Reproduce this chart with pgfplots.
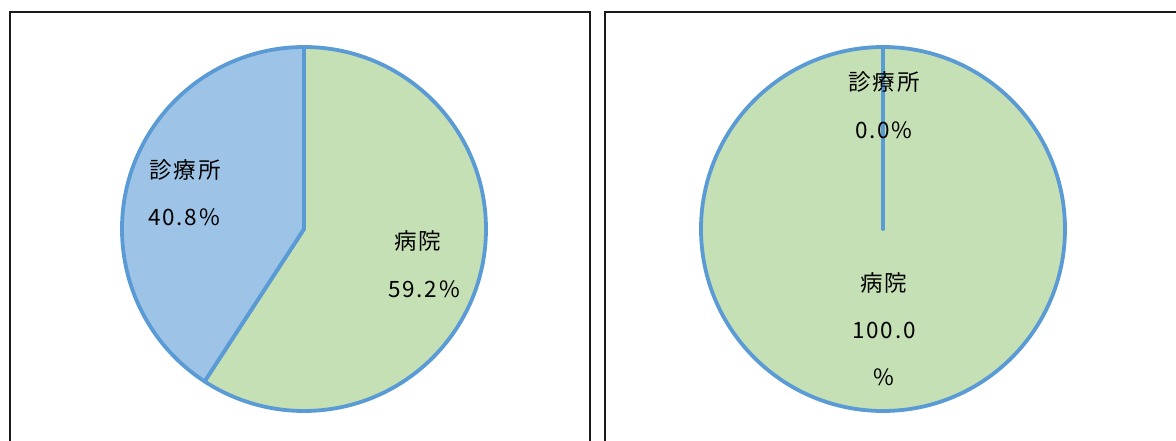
\documentclass[border=0pt]{standalone}
\usepackage{pgfplots}
\pgfplotsset{compat=1.18}
\usepackage{pgfplotstable}
\usepackage{fontspec}
\setmainfont{Noto Sans CJK JP}
\newfontfamily\jp[LetterSpace=8]{Noto Sans CJK JP}
\definecolor{pieGreen}{HTML}{C5E0B4}
\definecolor{pieBlue}{HTML}{9DC3E6}
\definecolor{pieEdge}{HTML}{5B9BD5}
\definecolor{frameC}{HTML}{1A1A1A}
% left pie
\pgfplotstableread{
kind value
hospital 59.2
clinic 40.8
}\leftdata
% right pie
\pgfplotstableread{
kind value
hospital 100.0
clinic 0.0
}\rightdata
\pgfplotstablegetelem{0}{value}\of\leftdata \let\LH\pgfplotsretval
\pgfplotstablegetelem{1}{value}\of\leftdata \let\LC\pgfplotsretval
\pgfplotstablegetelem{0}{value}\of\rightdata \let\RH\pgfplotsretval
\pgfplotstablegetelem{1}{value}\of\rightdata \let\RC\pgfplotsretval
\pgfmathsetmacro\LA{90-3.6*\LH}
\pgfmathsetmacro\LB{\LA-3.6*\LC}
\pgfmathsetmacro\RA{90-3.6*\RH}
\pgfmathsetmacro\RB{\RA-3.6*\RC}
\begin{document}
\begin{tikzpicture}
\begin{axis}[
  scale only axis, width=1176pt, height=441pt,
  xmin=0, xmax=1176, ymin=0, ymax=441,
  enlargelimits=false, hide axis, clip=true,
]
\path (axis cs:0,0) (axis cs:1176,441);
% frames
\draw[frameC, line width=2pt] (axis cs:10,-10) -- (axis cs:10,429) -- (axis cs:590,429) -- (axis cs:590,-10);
\draw[frameC, line width=2pt] (axis cs:605,-10) -- (axis cs:605,429) -- (axis cs:1190,429);
% left pie
\filldraw[fill=pieGreen, draw=pieEdge, line width=3.8pt, line join=round]
  (axis cs:304,212) -- ++(90:182pt) arc[start angle=90, end angle=\LA, radius=182pt] -- cycle;
\filldraw[fill=pieBlue, draw=pieEdge, line width=3.8pt, line join=round]
  (axis cs:304,212) -- ++(\LA:182pt) arc[start angle=\LA, end angle=\LB, radius=182pt] -- cycle;
% right pie
\filldraw[fill=pieGreen, draw=pieEdge, line width=3.8pt, line join=round]
  (axis cs:883,212) -- ++(90:182pt) arc[start angle=90, end angle=\RA, radius=182pt] -- cycle;
\filldraw[fill=pieBlue, draw=pieEdge, line width=3.8pt, line cap=round]
  (axis cs:883,212) -- ++(\RA:182pt);
% labels
\tikzset{lbl/.style={font=\jp\fontsize{22.5}{26}\selectfont, text=black, inner sep=0pt}}
\node[lbl] at (axis cs:185,271) {診療所};
\node[lbl] at (axis cs:184,224) {40.8\%};
\node[lbl] at (axis cs:418,200) {病院};
\node[lbl] at (axis cs:424,152) {59.2\%};
\node[lbl] at (axis cs:884,359) {診療所};
\node[lbl] at (axis cs:884,311) {0.0\%};
\node[lbl] at (axis cs:884,158) {病院};
\node[lbl] at (axis cs:884,111) {100.0};
\node[lbl] at (axis cs:884,64) {\%};
\end{axis}
\end{tikzpicture}
\end{document}
